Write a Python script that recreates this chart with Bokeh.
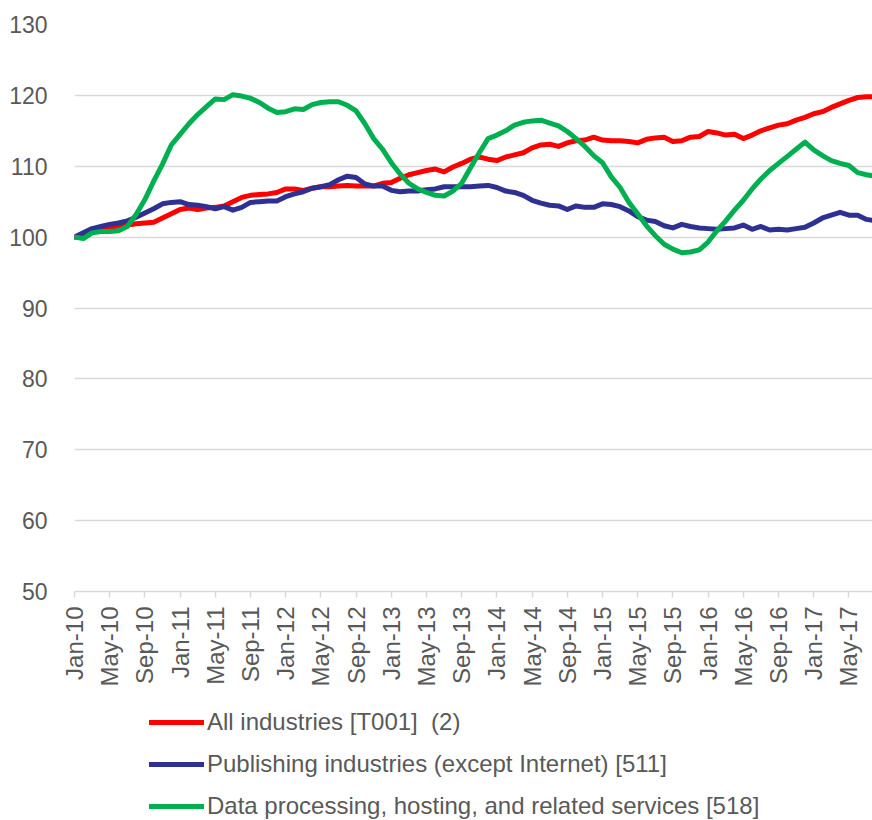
import numpy as np
from bokeh.plotting import figure
from bokeh.layouts import column
from bokeh.models import Range1d, FixedTicker, Legend, LegendItem
from bokeh.embed import file_html
from bokeh.resources import INLINE

months = ["Jan", "Feb", "Mar", "Apr", "May", "Jun", "Jul", "Aug", "Sep", "Oct", "Nov", "Dec"]
n_points = 92
dates = [f"{months[i % 12]}-{10 + i // 12}" for i in range(n_points)]

all_industries = [
    100.0, 100.4, 101.0, 101.1, 101.3, 101.6, 101.7, 101.9, 102.0, 102.1,
    102.7, 103.3, 103.9, 104.1, 103.9, 104.1, 104.2, 104.4, 105.0, 105.6,
    105.9, 106.0, 106.1, 106.3, 106.8, 106.8, 106.6, 106.9, 107.1, 107.1,
    107.2, 107.3, 107.2, 107.2, 107.2, 107.6, 107.7, 108.3, 108.8, 109.1,
    109.4, 109.6, 109.2, 109.9, 110.4, 111.0, 111.3, 111.0, 110.8, 111.3,
    111.6, 111.9, 112.6, 113.0, 113.1, 112.8, 113.3, 113.6, 113.7, 114.1,
    113.7, 113.6, 113.6, 113.5, 113.3, 113.8, 114.0, 114.1, 113.5, 113.6,
    114.1, 114.2, 114.9, 114.7, 114.4, 114.5, 113.9, 114.4, 115.0, 115.4,
    115.8, 116.0, 116.5, 116.9, 117.4, 117.7, 118.3, 118.8, 119.3, 119.7,
    119.8, 119.8,
]

publishing = [
    100.0, 100.6, 101.2, 101.5, 101.8, 102.0, 102.3, 102.8, 103.4, 104.0,
    104.7, 104.9, 105.0, 104.6, 104.5, 104.3, 104.0, 104.3, 103.8, 104.2,
    104.9, 105.0, 105.1, 105.1, 105.7, 106.1, 106.4, 106.9, 107.1, 107.4,
    108.1, 108.6, 108.4, 107.5, 107.2, 107.2, 106.6, 106.4, 106.5, 106.5,
    106.7, 106.8, 107.1, 107.1, 107.1, 107.1, 107.2, 107.3, 107.0, 106.5,
    106.3, 105.9, 105.2, 104.8, 104.5, 104.4, 103.9, 104.4, 104.2, 104.2,
    104.7, 104.6, 104.3, 103.7, 102.9, 102.4, 102.2, 101.6, 101.3, 101.8,
    101.5, 101.3, 101.2, 101.1, 101.2, 101.3, 101.7, 101.1, 101.5, 101.0,
    101.1, 101.0, 101.2, 101.4, 102.0, 102.7, 103.1, 103.5, 103.1, 103.1,
    102.5, 102.3,
]

data_processing = [
    100.0, 99.8, 100.6, 100.8, 100.8, 100.9, 101.5, 103.2, 105.3, 107.9,
    110.3, 113.0, 114.5, 116.0, 117.3, 118.4, 119.5, 119.4, 120.1, 119.9,
    119.6, 119.0, 118.2, 117.6, 117.7, 118.1, 118.0, 118.7, 119.0, 119.1,
    119.1, 118.6, 117.8, 116.0, 113.9, 112.4, 110.5, 108.9, 107.6, 106.8,
    106.3, 105.9, 105.8, 106.5, 107.6, 109.8, 111.9, 113.9, 114.4, 115.0,
    115.8, 116.2, 116.4, 116.5, 116.1, 115.7, 114.9, 113.9, 112.8, 111.5,
    110.5, 108.5, 107.0, 104.9, 103.3, 101.6, 100.2, 99.0, 98.3, 97.8,
    97.9, 98.2, 99.3, 100.9, 102.3, 103.8, 105.2, 106.8, 108.2, 109.4,
    110.4, 111.4, 112.4, 113.4, 112.3, 111.5, 110.8, 110.4, 110.1, 109.1,
    108.8, 108.6,
]

series_names = [
    "All industries [T001]  (2)",
    "Publishing industries (except Internet) [511]",
    "Data processing, hosting, and related services [518]",
]
series_colors = ["#FF0000", "#2E3192", "#00B050"]

y_ticks = [50, 60, 70, 80, 90, 100, 110, 120, 130]
x_tick_positions = list(range(0, 89, 4))

x = list(range(n_points))
all_series = [all_industries, publishing, data_processing]

FONT = "Liberation Sans"
GREY = "#595959"

# ---------------- main chart ----------------
p = figure(
    frame_width=798, frame_height=567,
    output_backend="svg", toolbar_location=None,
    x_range=Range1d(0, 90.68), y_range=Range1d(50, 130),
    min_border_left=74, min_border_right=0, min_border_top=24, min_border_bottom=112,
)
p.outline_line_color = None
p.background_fill_color = "white"
p.border_fill_color = "white"

for vals, col in zip(all_series, series_colors):
    p.line(x, vals, line_color=col, line_width=5, line_join="round", line_cap="round")

p.yaxis.ticker = FixedTicker(ticks=y_ticks)
p.yaxis.axis_line_color = None
p.yaxis.major_tick_line_color = None
p.yaxis.minor_tick_line_color = None
p.yaxis.major_label_standoff = 21
p.yaxis.major_label_text_font = FONT
p.yaxis.major_label_text_font_size = "23px"
p.yaxis.major_label_text_color = GREY

p.xaxis.ticker = FixedTicker(ticks=x_tick_positions)
p.xaxis.major_label_overrides = {i: dates[i] for i in x_tick_positions}
p.xaxis.major_label_orientation = np.pi / 2
p.xaxis.axis_line_color = "#D9D9D9"
p.xaxis.axis_line_width = 1.5
p.xaxis.major_tick_line_color = "#D9D9D9"
p.xaxis.major_tick_line_width = 1.5
p.xaxis.major_tick_out = 6
p.xaxis.major_tick_in = 0
p.xaxis.minor_tick_line_color = None
p.xaxis.major_label_standoff = 9
p.xaxis.major_label_text_font = FONT
p.xaxis.major_label_text_font_size = "24px"
p.xaxis.major_label_text_color = GREY

p.xgrid.grid_line_color = None
p.ygrid.grid_line_color = "#D9D9D9"
p.ygrid.grid_line_width = 1.5

# ---------------- legend strip ----------------
leg = figure(
    width=872, height=117,
    output_backend="svg", toolbar_location=None,
    x_range=Range1d(1000, 1001), y_range=Range1d(1000, 1001),
    min_border_left=0, min_border_right=0, min_border_top=0, min_border_bottom=0,
)
leg.axis.visible = False
leg.grid.visible = False
leg.outline_line_color = None
leg.background_fill_color = "white"
leg.border_fill_color = "white"

leg_renderers = []
for vals, col in zip(all_series, series_colors):
    r = leg.line(x, vals, line_color=col, line_width=5, line_cap="round")
    leg_renderers.append(r)

legend = Legend(
    items=[LegendItem(label=n, renderers=[r]) for n, r in zip(series_names, leg_renderers)],
    location=(75, 0),
    orientation="vertical",
    glyph_width=55, glyph_height=24, label_height=24, label_standoff=3,
    spacing=14, padding=0, margin=0,
    label_text_font=FONT, label_text_font_size="24px", label_text_color=GREY,
    border_line_color=None, background_fill_alpha=0,
)
leg.add_layout(legend, "center")

layout = column(p, leg, spacing=0)

open("out.html", "w").write(file_html(layout, INLINE))
